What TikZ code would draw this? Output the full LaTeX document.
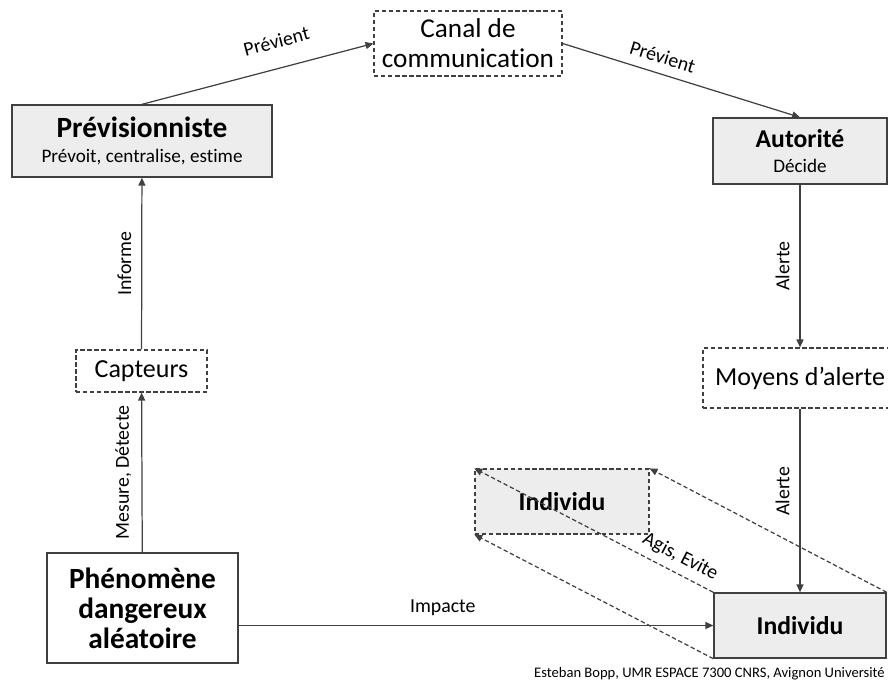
\documentclass[tikz,border=0pt]{standalone}
\usepackage{fontspec}
\setmainfont{Carlito}[Ligatures=NoCommon]
\usepackage{tikz}
\usetikzlibrary{arrows.meta,positioning}

\newcommand{\bigtitle}{\fontsize{16.7}{17}\selectfont\bfseries}
\newcommand{\midtitle}{\fontsize{14.6}{17}\selectfont\bfseries}
\newcommand{\subtext}{\fontsize{10.9}{13}\selectfont}
\newcommand{\boxtext}{\fontsize{14.8}{17}\selectfont}
\newcommand{\labtext}{\fontsize{11.3}{13}\selectfont}

\begin{document}
\begin{tikzpicture}[x=0.02cm, y=-0.02cm,
    fullbox/.style={draw=black!75, line width=0.8pt, inner sep=0pt, align=center},
    greybox/.style={fullbox, fill=black!7},
    dashbox/.style={draw=black!75, line width=0.7pt, dash pattern=on 2.5pt off 1.5pt, inner sep=0pt, align=center},
    link/.style={draw=black!75, line width=0.7pt, -{Triangle[length=4.5pt,width=4pt]}},
    dashlink/.style={link, dash pattern=on 2.5pt off 1.5pt},
    lab/.style={font=\labtext, inner sep=0pt},
    vlab/.style={lab, rotate=90, anchor=south, outer sep=6pt}]
  \useasboundingbox (0,0) rectangle (888,684);

  % boxes
  \node[greybox, minimum width=5.2cm, minimum height=1.44cm] (prev) at (142,141)
    {{\bigtitle Prévisionniste}\\[2pt]{\subtext Prévoit, centralise, estime}};
  \node[dashbox, minimum width=3.76cm, minimum height=1.3cm, font=\fontsize{15.5}{17}\selectfont] (canal) at (468,43.5)
    {Canal de\\communication};
  \node[greybox, minimum width=3.48cm, minimum height=1.32cm] (auto) at (800,151)
    {{\midtitle Autorité}\\[2pt]{\subtext Décide}};
  \node[dashbox, minimum width=3.88cm, minimum height=1.2cm, font=\boxtext] (moyens) at (800,378)
    {Moyens d’alerte};
  \node[dashbox, minimum width=2.62cm, minimum height=0.84cm, font=\boxtext] (capt) at (141.5,371)
    {Capteurs};
  \node[fullbox, minimum width=3.82cm, minimum height=2.2cm, font=\bigtitle] (phen) at (142.5,608)
    {Phénomène\\dangereux\\aléatoire};
  \node[greybox, minimum width=3.44cm, minimum height=1.3cm, font=\midtitle] (indiv) at (800,625.5)
    {Individu};
  \node[dashbox, fill=black!7, minimum width=3.48cm, minimum height=1.3cm, font=\midtitle] (ghost) at (562,501.5)
    {Individu};

  % connectors
  \draw[link] (phen) -- (capt) node[vlab, midway]{Mesure, Détecte};
  \draw[link] (capt) -- (prev) node[vlab, midway]{Informe};
  \draw[link] (prev.north) -- (canal.west) node[lab, pos=0.61, sloped, above=11pt]{Prévient};
  \draw[link] (canal.east) -- (auto.north) node[lab, pos=0.4, sloped, above=5.5pt]{Prévient};
  \draw[link] (auto) -- (moyens) node[vlab, midway]{Alerte};
  \draw[link] (moyens) -- (indiv) node[vlab, pos=0.45]{Alerte};
  \draw[link] (phen.east |- indiv.west) -- (indiv.west) node[lab, pos=0.43, above=5pt]{Impacte};
  \draw[dashlink] (indiv.north east) -- (ghost.north east);
  \draw[dashlink] (indiv.north west) -- (ghost.north west) node[lab, pos=0.17, sloped, above=4pt]{Agis, Evite};
  \draw[dashlink] (indiv.south west) -- (ghost.south west);

  \node[anchor=base east, inner sep=0pt, font=\fontsize{8.3}{9}\selectfont] (credit) at (885,677)
    {Esteban Bopp, UMR ESPACE 7300 CNRS, Avignon Université};
\end{tikzpicture}
\end{document}
